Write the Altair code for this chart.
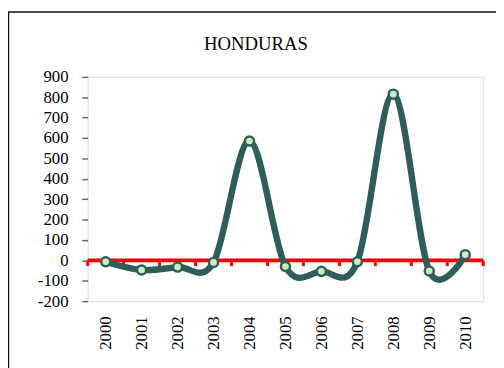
import altair as alt
import pandas as pd

years = [2000, 2001, 2002, 2003, 2004, 2005, 2006, 2007, 2008, 2009, 2010]
values = [-7, -47, -33, -10, 585, -30, -54, -7, 815, -52, 28]
boundaries = [1999.5 + i for i in range(12)]
y_ticks = list(range(-200, 901, 100))
title_text = "HONDURAS"

LINE = "#2F5E5A"
FILL = "#C8F0C0"
RED = "#FF0000"
SERIF = "Liberation Serif"

df = pd.DataFrame({"year": years, "value": values})
bdf = pd.DataFrame({"b": boundaries})
one = pd.DataFrame({"d": [0], "t": [title_text]})

W, H = 402, 228

xscale = alt.Scale(domain=[1999.5, 2010.5], nice=False, zero=False)
yscale = alt.Scale(domain=[-200, 900], nice=False)

xaxis = alt.Axis(values=years, labelExpr="'' + datum.value", labelAngle=270, ticks=False,
                 domain=False, grid=False, title=None, labelFontSize=17, labelPadding=15,
                 labelOverlap=False, labelFont=SERIF, labelColor="black")
yaxis = alt.Axis(values=y_ticks, labelExpr="'' + datum.value", domain=False, grid=False,
                 title=None, tickSize=6, tickColor="#666666", tickWidth=1.5,
                 labelFontSize=17, labelPadding=14, labelOverlap=False,
                 labelFont=SERIF, labelColor="black")

base = alt.Chart(df)

line = base.mark_line(interpolate="cardinal", color=LINE, strokeWidth=6.5).encode(
    x=alt.X("year:Q", scale=xscale, axis=xaxis),
    y=alt.Y("value:Q", scale=yscale, axis=yaxis),
)
points = base.mark_point(filled=True, fill=FILL, fillOpacity=1, stroke=LINE,
                         strokeWidth=2.5, size=85, opacity=1).encode(
    x=alt.X("year:Q", scale=xscale, axis=xaxis),
    y=alt.Y("value:Q", scale=yscale, axis=yaxis),
)

zero_line = alt.Chart(one).mark_rule(color=RED, strokeWidth=4).encode(
    x=alt.value(0), x2=alt.value(W), y=alt.Y("d:Q", scale=yscale, axis=yaxis)
)
zero_ticks = alt.Chart(bdf).transform_calculate(y0="0", y1="-28").mark_rule(
    color=RED, strokeWidth=3).encode(
    x=alt.X("b:Q", scale=xscale, axis=xaxis),
    y=alt.Y("y0:Q", scale=yscale, axis=yaxis),
    y2="y1:Q",
)

title = alt.Chart(one).mark_text(font=SERIF, fontSize=19, color="black",
                                 baseline="alphabetic", align="center").encode(
    x=alt.value(171), y=alt.value(-27), text="t:N"
)

frame_top = alt.Chart(one).mark_rule(color="#111111", strokeWidth=1.5).encode(
    x=alt.value(-81), x2=alt.value(430), y=alt.value(-66)
)
frame_left = alt.Chart(one).mark_rule(color="#111111", strokeWidth=1.5).encode(
    x=alt.value(-80.5), y=alt.value(-66), y2=alt.value(300)
)

chart = alt.layer(zero_line, zero_ticks, line, points, title, frame_top, frame_left).properties(
    width=W, height=H,
    autosize=alt.AutoSizeParams(type="none"),
    padding={"left": 81, "top": 67, "right": 13, "bottom": 65},
).configure_view(stroke="#7F7F7F", strokeWidth=2).configure(background="white")

chart.save("out.html", embed_options={"renderer": "svg", "actions": False})
